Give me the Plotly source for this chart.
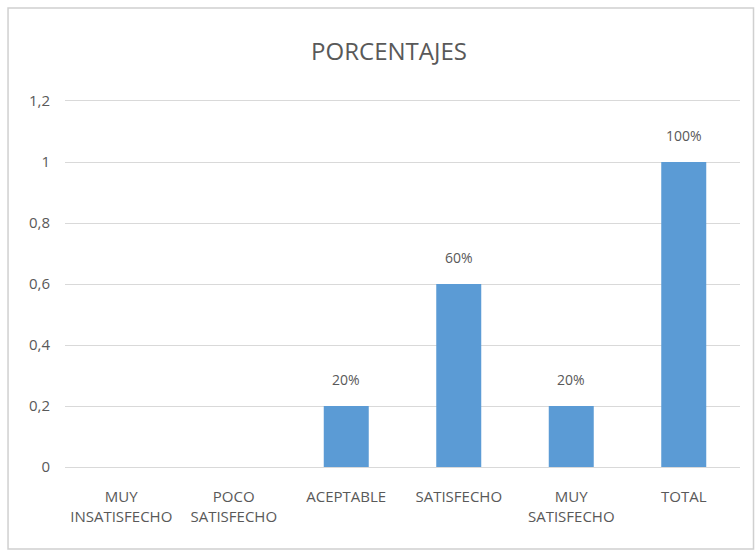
import plotly.graph_objects as go

categories = ["MUY<br>INSATISFECHO", "POCO<br>SATISFECHO", "ACEPTABLE",
              "SATISFECHO", "MUY<br>SATISFECHO", "TOTAL"]
values = [0, 0, 0.2, 0.6, 0.2, 1.0]
tick_vals = [0, 0.2, 0.4, 0.6, 0.8, 1.0, 1.2]

labels = [f"{round(v * 100)}%" if v > 0 else "" for v in values]

FONT = "Open Sans, sans-serif"
GRAY = "#595959"
GRID = "#D9D9D9"

fig = go.Figure(go.Bar(
    x=categories, y=values,
    marker=dict(color="#5B9BD5", line=dict(width=0)),
    cliponaxis=False, hoverinfo="x+y",
))

# value labels placed a little above each bar top
annotations = [
    dict(x=c, y=v, text=t, showarrow=False, xref="x", yref="y",
         yanchor="bottom", yshift=15,
         font=dict(family=FONT, size=14, color=GRAY))
    for c, v, t in zip(categories, values, labels) if t
]

fig.update_layout(
    width=755, height=550,
    margin=dict(l=65, r=15, t=101, b=83),
    paper_bgcolor="white", plot_bgcolor="white",
    separators=",.",
    bargap=0.6,
    showlegend=False,
    annotations=annotations,
    title=dict(text="PORCENTAJES", x=0.48, xref="paper", xanchor="center",
               y=1.0 - 52 / 550, yanchor="middle",
               font=dict(family=FONT, size=24, color=GRAY)),
    # mirrored x-axis line supplies the gridline at the top of the range
    xaxis=dict(tickfont=dict(family=FONT, size=15, color=GRAY),
               showgrid=False, showline=True, linecolor=GRID, linewidth=1,
               mirror=True, ticks="", ticklabelstandoff=16),
    yaxis=dict(range=[0, max(tick_vals)], tickvals=tick_vals,
               tickfont=dict(family=FONT, size=15, color=GRAY),
               gridcolor=GRID, gridwidth=1, zeroline=False,
               showline=False, ticks="", ticklabelstandoff=14),
    shapes=[dict(type="rect", xref="paper", yref="paper",
                 x0=-0.0844, x1=1.02, y0=-0.224, y1=1.254,
                 line=dict(color="#D0D0D0", width=1.5), layer="below")],
)

fig.write_html("out.html")
